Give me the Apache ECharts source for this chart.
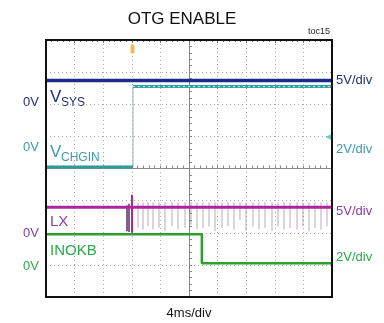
<!DOCTYPE html>
<html>
<head>
<meta charset="utf-8">
<script src="https://cdn.jsdelivr.net/npm/echarts@6/dist/echarts.min.js"></script>
<style>html,body{margin:0;padding:0;background:#fff;}#c{width:384px;height:323px;}</style>
</head>
<body>
<div id="c"></div>
<script>
// time axis in ms (4 ms/div), vertical axis in screen divisions (0 = centre)
const xTicks = [-20, -16, -12, -8, -4, 0, 4, 8, 12, 16, 20];
const vsysT = [-20, 20];
const vsysV = [2.74, 2.74];
const chginLowT = [-20, -7.83];
const chginLowV = [0.05, 0.05];
const chginHighT = [-7.83, 20];
const chginHighV = [2.55, 2.55];
const chginEdge = [[-7.83, 0.05, 2.55]];
const lxT = [-20, 20];
const lxV = [-1.21, -1.21];
const lxBigSpike = [[-7.97, -0.82, -2.0]];
const lxDarkSpikes = [[-8.67, -1.15, -1.95], [-8.39, -1.1, -1.98]];
const lxSpikeT = [-7.13, -6.43, -5.73, -5.03, -4.20, -3.36, -2.38, -1.54, -0.56, 0.28, 1.12, 1.96, 2.80, 3.64, 4.62, 5.45, 6.29, 7.13, 7.97, 8.95, 9.79, 10.63, 11.61, 12.45, 13.29, 14.13, 15.11, 15.94, 16.78, 17.62, 18.46, 19.30];
const lxSpikeLow = [-1.85, -1.9, -1.8, -1.9, -1.85, -1.95, -1.8, -1.9, -1.85, -1.75, -1.9, -1.85, -1.8, -1.95, -1.85, -1.8, -1.9, -1.6, -1.95, -1.8, -1.9, -1.85, -1.95, -1.8, -1.9, -1.85, -1.9, -1.8, -1.95, -1.85, -1.9, -1.8];
const inokbT = [-20, 1.8, 1.8, 20];
const inokbV = [-2.05, -2.05, -2.95, -2.95];
const trigMark = [[-7.9, 3.72]];
const chginMark = [[19.5, 0.98]];

const pair = (t, v) => t.map((x, i) => [x, v[i]]);
const spikes = lxSpikeT.map((t, i) => [t, -1.05, lxSpikeLow[i]]);

function vline(color, width) {
  return function (params, api) {
    const a = api.coord([api.value(0), api.value(1)]);
    const b = api.coord([api.value(0), api.value(2)]);
    return { type: 'line', shape: { x1: a[0], y1: a[1], x2: b[0], y2: b[1] },
      style: { stroke: color, lineWidth: width } };
  };
}

const chart = echarts.init(document.getElementById('c'), null, { renderer: 'canvas' });
const F = 'Liberation Sans, Arial, sans-serif';
function txt(x, y, s, color, size, align) {
  return { type: 'text', x: x, y: y,
    style: { text: s, fill: color, font: size + 'px ' + F, textAlign: align || 'left', textVerticalAlign: 'middle' } };
}
const axisCommon = {
  type: 'value', axisLabel: { show: false }
};
chart.setOption({
  animation: false,
  backgroundColor: '#fff',
  grid: { left: 46, top: 40, width: 286, height: 257, show: true, borderColor: '#111', borderWidth: 2, backgroundColor: 'transparent', z: 10 },
  xAxis: [
    Object.assign({}, axisCommon, {
      min: -20, max: 20, interval: 4,
      axisLine: { show: true, onZero: true, lineStyle: { color: '#888', width: 1 } },
      axisTick: { show: true, inside: true, length: 3, lineStyle: { color: '#888' } },
      minorTick: { show: true, splitNumber: 5, length: 3, lineStyle: { color: '#888' } },
      splitLine: { show: true, lineStyle: { color: '#aaa', type: [1, 3], width: 1 } }
    }),
    Object.assign({}, axisCommon, {
      min: -20, max: 20, interval: 4, position: 'top',
      axisLine: { show: false, onZero: false },
      axisTick: { show: true, inside: true, length: 3, lineStyle: { color: '#777' } },
      minorTick: { show: true, splitNumber: 5, length: 2, lineStyle: { color: '#777' } },
      splitLine: { show: false }
    })
  ],
  yAxis: [
    Object.assign({}, axisCommon, {
      min: -4, max: 4, interval: 1,
      axisLine: { show: true, onZero: true, lineStyle: { color: '#888', width: 1 } },
      axisTick: { show: true, inside: true, length: 3, lineStyle: { color: '#888' } },
      minorTick: { show: true, splitNumber: 5, length: 3, lineStyle: { color: '#888' } },
      splitLine: { show: true, lineStyle: { color: '#aaa', type: [1, 3], width: 1 } }
    })
  ],
  graphic: [
    txt(182, 19, 'OTG ENABLE', '#111', 17, 'center'),
    txt(330, 32, 'toc15', '#222', 9, 'right'),
    txt(189, 313, '4ms/div', '#111', 13, 'center'),
    txt(39, 102, '0V', '#1d2f7f', 13, 'right'),
    txt(50, 97, 'V', '#1d2f7f', 17),
    txt(61, 103, 'SYS', '#1d2f7f', 12),
    txt(39, 147, '0V', '#3a9cab', 13, 'right'),
    txt(50, 152, 'V', '#3a9cab', 17),
    txt(61, 158, 'CHGIN', '#3a9cab', 12),
    txt(39, 233, '0V', '#8a3aa8', 13, 'right'),
    txt(50, 222, 'LX', '#8a3aa8', 15),
    txt(39, 266, '0V', '#2aa84a', 13, 'right'),
    txt(50, 251, 'INOKB', '#2aa84a', 15),
    txt(336, 80, '5V/div', '#1d2f7f', 13),
    txt(336, 149, '2V/div', '#3a9cab', 13),
    txt(336, 211, '5V/div', '#8a3aa8', 13),
    txt(336, 257, '2V/div', '#2aa84a', 13)
  ],
  series: [
    { type: 'custom', renderItem: vline('rgba(140,110,150,0.6)', 1), data: spikes, z: 2, silent: true },
    { type: 'custom', renderItem: vline('#5a2a60', 1.5), data: lxDarkSpikes, z: 3, silent: true },
    { type: 'custom', renderItem: vline('#b0239f', 2), data: lxBigSpike, z: 4, silent: true },
    { type: 'line', data: pair(lxT, lxV), showSymbol: false, lineStyle: { color: '#b0239f', width: 3 }, z: 3 },
    { type: 'line', data: pair(inokbT, inokbV), showSymbol: false, lineStyle: { color: '#2ca02c', width: 2.5 }, z: 3 },
    { type: 'custom', renderItem: vline('#8fb4b4', 1), data: chginEdge, z: 2, silent: true },
    { type: 'line', data: pair(chginLowT, chginLowV), showSymbol: false, lineStyle: { color: '#2e9c98', width: 3 }, z: 3 },
    { type: 'line', data: pair(chginHighT, chginHighV), showSymbol: false, lineStyle: { color: '#2ea6a3', width: 3 }, z: 3 },
    { type: 'line', data: pair(chginHighT, chginHighV), showSymbol: false, lineStyle: { color: '#bfe6e2', width: 1, type: [2, 3] }, z: 4 },
    { type: 'line', data: pair(vsysT, vsysV), showSymbol: false, lineStyle: { color: '#1d2a8a', width: 3.5 }, z: 5 },
    { type: 'scatter', data: trigMark, symbol: 'roundRect', symbolSize: [4, 9], itemStyle: { color: '#eeaa33' }, z: 6 },
    { type: 'scatter', data: chginMark, symbol: 'triangle', symbolRotate: 90, symbolSize: 6, itemStyle: { color: '#3cc0b8' }, z: 6 }
  ]
});
</script>
</body>
</html>
